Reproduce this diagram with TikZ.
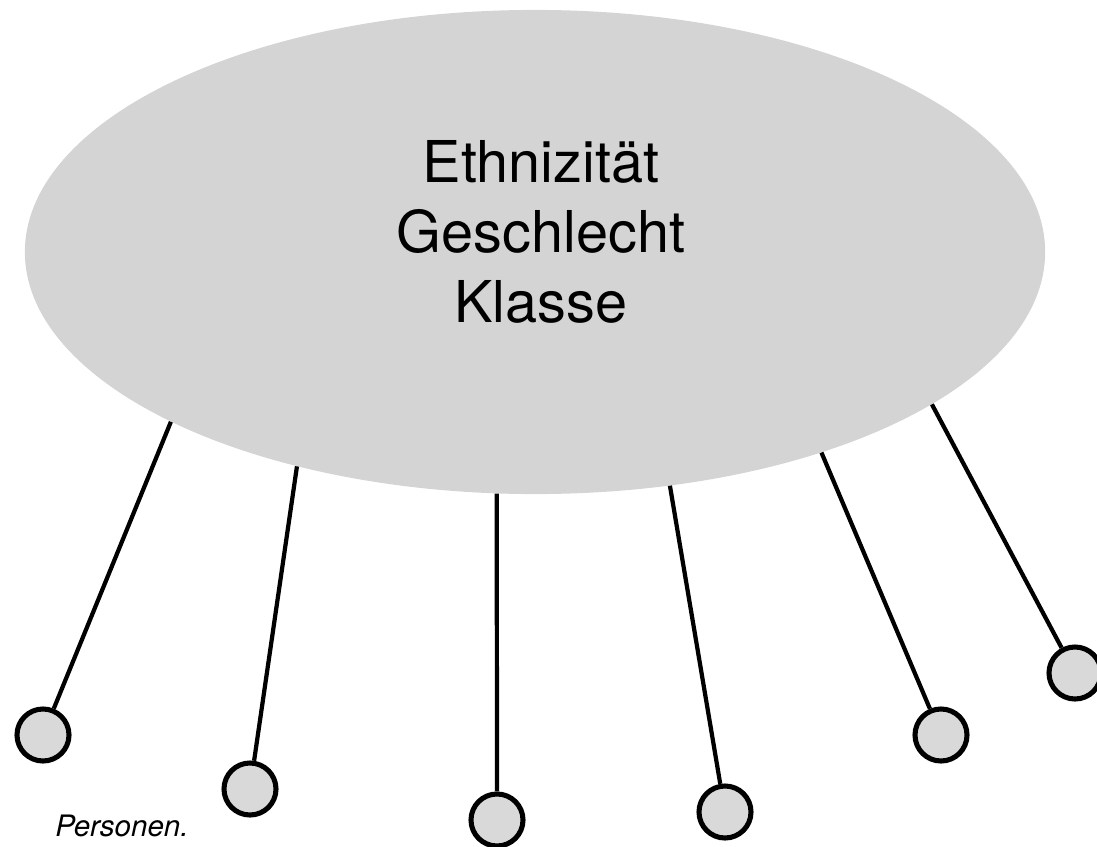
\documentclass[tikz,border=0pt]{standalone}
\usepackage{fontspec}
\setmainfont{TeX Gyre Heros}
\usetikzlibrary{shapes.geometric}
\begin{document}
\begin{tikzpicture}[x=0.025cm,y=-0.025cm]
	\tikzset{p/.style={circle,draw,line width=3.6pt,fill=black!15,minimum size=1.3cm,inner sep=0pt},
		l/.style={line width=3pt}}
	\useasboundingbox(0,0)rectangle(1097,847);
	\path(535,252)node[ellipse,fill=black!17,minimum width=25.5cm,minimum height=12.1cm,inner sep=0pt](E){};
	\path(541,232)node[align=center,inner sep=0pt,font=\fontsize{41}{49.6}\selectfont](T){Ethnizität\\Geschlecht\\Klasse};
	\path(43,735)node[p](P1){}(250,789)node[p](P2){}(497,820)node[p](P3){}
		(725,812)node[p](P4){}(941,735)node[p](P5){}(1075,673)node[p](P6){};
	\foreach \a/\y in {205.2/P1,222.8/P2,261.6/P3,300.3/P4,325.3/P5,339.7/P6}
	\draw[l](E.\a)--(\y);
	\path(55,836)node[anchor=base west,inner sep=0pt,font=\fontsize{21}{24}\selectfont\itshape](L){Personen.};
\end{tikzpicture}
\end{document}
